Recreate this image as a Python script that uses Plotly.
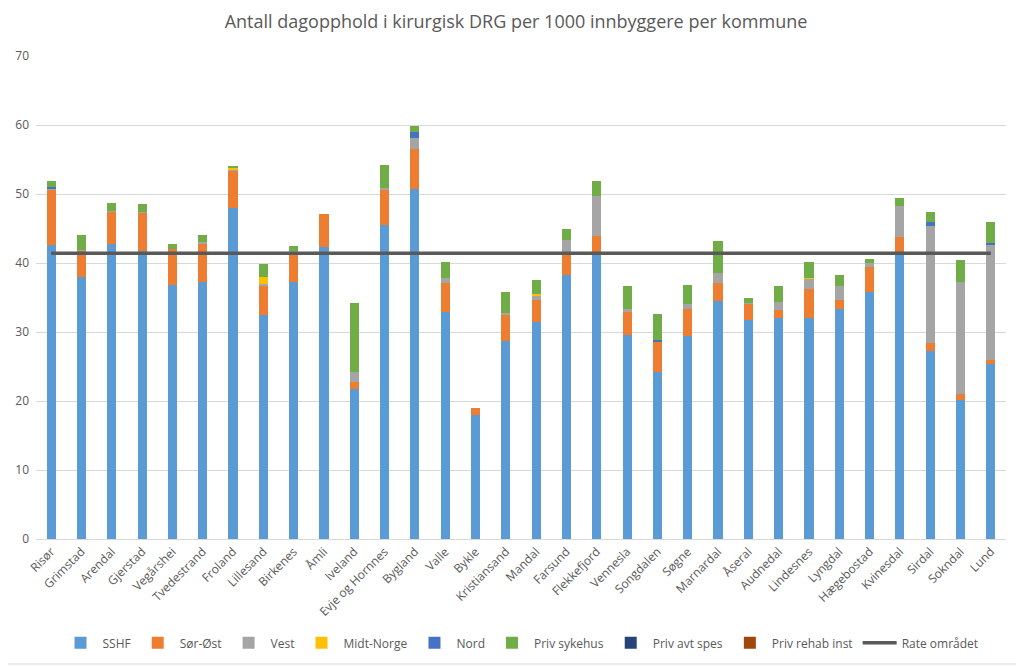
import plotly.graph_objects as go

kommuner = ["Risør", "Grimstad", "Arendal", "Gjerstad", "Vegårshei", "Tvedestrand", "Froland",
            "Lillesand", "Birkenes", "Åmli", "Iveland", "Evje og Hornnes", "Bygland", "Valle",
            "Bykle", "Kristiansand", "Mandal", "Farsund", "Flekkefjord", "Vennesla", "Songdalen",
            "Søgne", "Marnardal", "Åseral", "Audnedal", "Lindesnes", "Lyngdal", "Hægebostad",
            "Kvinesdal", "Sirdal", "Sokndal", "Lund"]

sshf = [42.6, 37.9, 42.8, 41.7, 36.8, 37.3, 48.0, 32.5, 37.2, 42.3, 21.8, 45.5, 50.7, 32.9,
        18.0, 28.7, 31.5, 38.3, 41.6, 29.5, 24.2, 29.4, 34.5, 31.8, 32.1, 32.0, 33.3, 35.8,
        41.5, 27.2, 20.1, 25.3]
sor_ost = [8.1, 3.9, 4.6, 5.6, 5.3, 5.5, 5.3, 4.1, 4.5, 4.8, 0.9, 5.2, 5.8, 4.2,
           1.0, 3.8, 3.1, 2.8, 2.3, 3.4, 4.4, 4.0, 2.6, 2.3, 1.1, 4.2, 1.3, 3.6,
           2.2, 1.2, 0.9, 0.6]
vest = [0.1, 0.1, 0.2, 0.1, 0.0, 0.3, 0.3, 0.4, 0.1, 0.0, 1.5, 0.2, 1.6, 0.7,
        0.0, 0.3, 0.6, 2.3, 5.8, 0.5, 0.0, 0.7, 1.4, 0.1, 1.1, 1.5, 2.0, 0.6,
        4.6, 16.9, 16.3, 16.7]
midt_norge = [0.0, 0.0, 0.0, 0.0, 0.0, 0.0, 0.2, 1.0, 0.0, 0.0, 0.0, 0.0, 0.0, 0.0,
              0.0, 0.0, 0.3, 0.0, 0.0, 0.0, 0.0, 0.0, 0.0, 0.0, 0.0, 0.1, 0.0, 0.0,
              0.0, 0.0, 0.0, 0.0]
nord = [0.2, 0.0, 0.0, 0.0, 0.0, 0.0, 0.0, 0.0, 0.0, 0.0, 0.0, 0.0, 0.9, 0.0,
        0.0, 0.0, 0.0, 0.0, 0.0, 0.0, 0.2, 0.0, 0.0, 0.0, 0.0, 0.0, 0.0, 0.0,
        0.0, 0.7, 0.0, 0.3]
priv_sykehus = [0.9, 2.1, 1.1, 1.1, 0.6, 0.9, 0.2, 1.8, 0.7, 0.0, 10.0, 3.3, 0.8, 2.4,
                0.0, 3.0, 2.0, 1.5, 2.2, 3.3, 3.8, 2.7, 4.7, 0.8, 2.3, 2.3, 1.7, 0.6,
                1.1, 1.4, 3.1, 3.0]
priv_avt_spes = [0.0] * 32
priv_rehab_inst = [0.0] * 32
rate_omradet = [41.4] * 32

series = [
    ("SSHF", sshf, "#5B9BD5"),
    ("Sør-Øst", sor_ost, "#ED7D31"),
    ("Vest", vest, "#A5A5A5"),
    ("Midt-Norge", midt_norge, "#FFC000"),
    ("Nord", nord, "#4472C4"),
    ("Priv sykehus", priv_sykehus, "#70AD47"),
    ("Priv avt spes", priv_avt_spes, "#264478"),
    ("Priv rehab inst", priv_rehab_inst, "#9E480E"),
]

font_family = "Open Sans, Noto Sans, sans-serif"
txt = "#595959"

fig = go.Figure()
for name, vals, col in series:
    fig.add_trace(go.Bar(name=name, x=kommuner, y=vals, marker=dict(color=col, line=dict(width=0))))

fig.add_trace(go.Scatter(name="Rate området", x=kommuner, y=rate_omradet, mode="lines",
                         line=dict(color="#595959", width=3.5)))

fig.update_layout(
    barmode="stack",
    bargap=0.7,
    width=1016, height=658,
    plot_bgcolor="white", paper_bgcolor="white",
    margin=dict(l=28, r=18, t=48, b=127, autoexpand=False),
    font=dict(family=font_family, color=txt, size=12),
    title=dict(text="Antall dagopphold i kirurgisk DRG per 1000 innbyggere per kommune",
               x=0.5, xanchor="center", y=0.9787, yanchor="middle",
               font=dict(size=18, color=txt, family=font_family)),
    legend=dict(orientation="h", x=0.5, xanchor="center", y=-0.215, yanchor="middle",
                font=dict(size=12, color=txt), itemwidth=34, traceorder="normal"),
    shapes=[dict(type="rect", xref="paper", yref="paper", x0=-0.036, x1=1.0144,
                 y0=-0.2588, y1=1.1139, line=dict(color="#D9D9D9", width=1), layer="below")],
)
fig.update_yaxes(range=[0, 70], dtick=10, showgrid=True, gridcolor="#D9D9D9", gridwidth=1,
                 zeroline=False, showline=False, tickfont=dict(size=12, color=txt), ticks="",
                 ticklabelstandoff=6, automargin=False)
fig.update_xaxes(tickangle=-45, showline=True, linecolor="#D9D9D9", ticks="",
                 tickfont=dict(size=12, color=txt), automargin=False)

fig.write_html("out.html")
